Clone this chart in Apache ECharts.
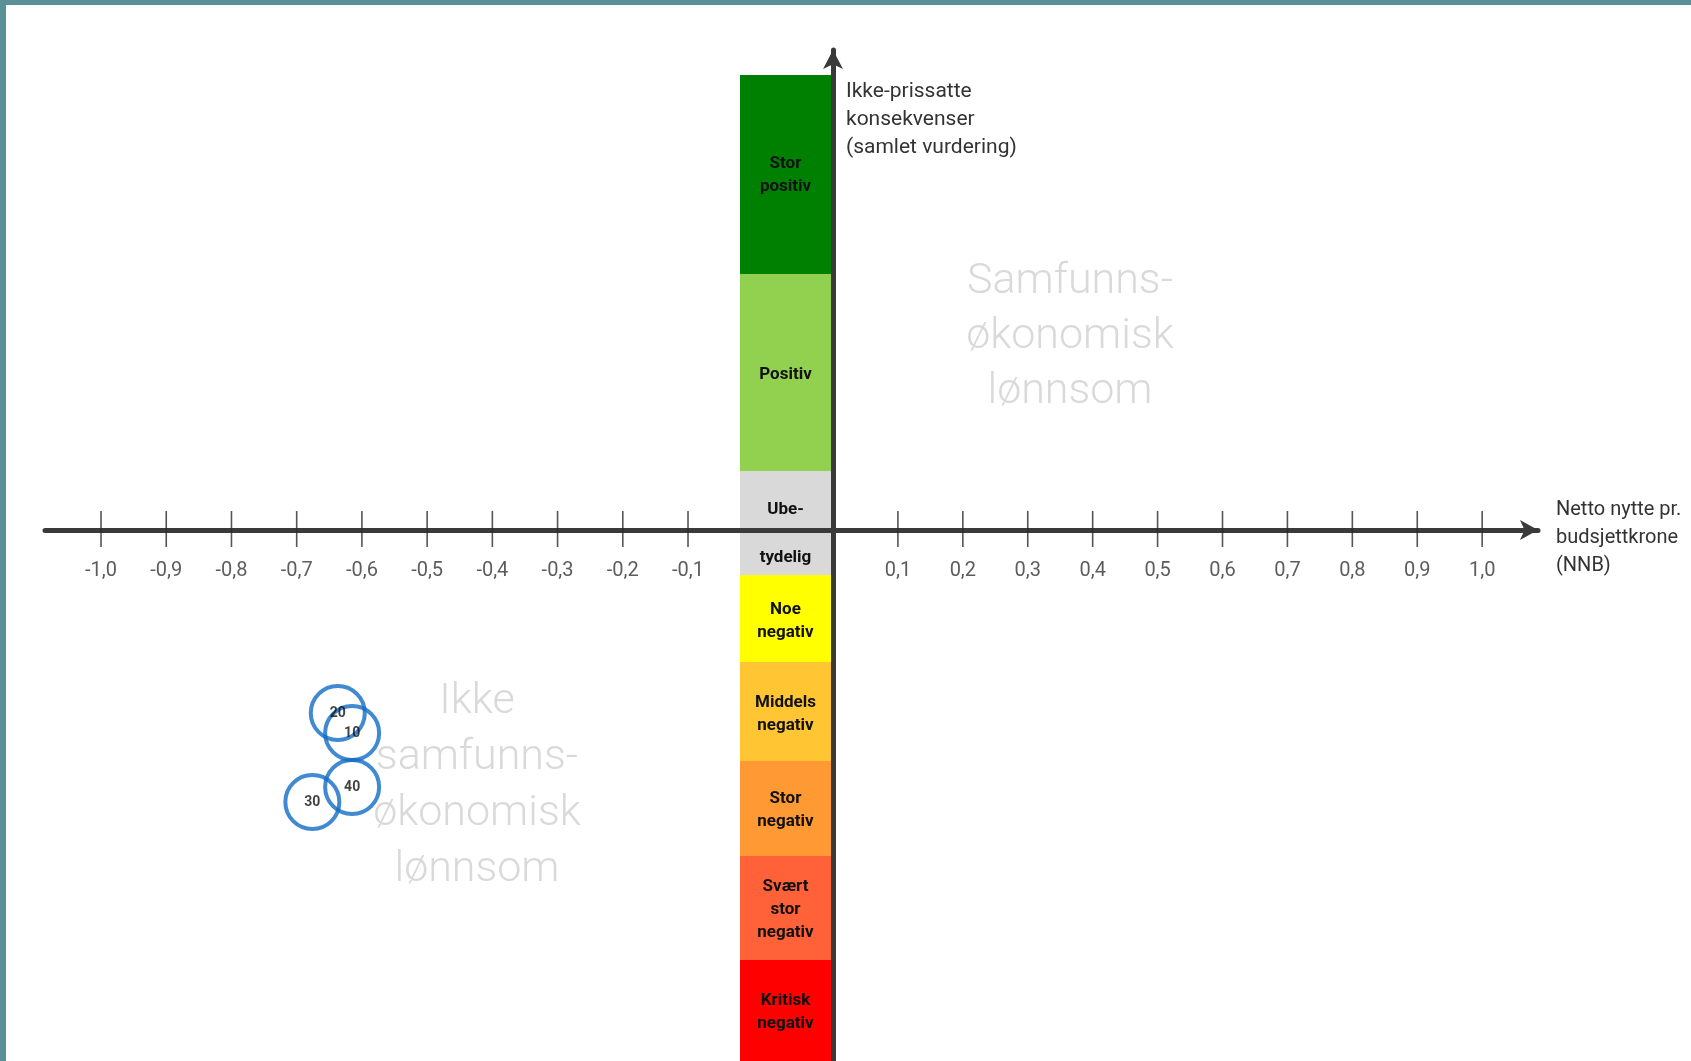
<!DOCTYPE html>
<html>
<head>
<meta charset="utf-8">
<script src="https://cdn.jsdelivr.net/npm/echarts@6.0.0/dist/echarts.min.js"></script>
<style>
html,body{margin:0;padding:0;background:#ffffff;overflow:hidden}
#chart{width:1691px;height:1061px}
</style>
</head>
<body>
<div id="chart"></div>
<script>
// ---- data ----
const tickValuesNeg = [-1.0, -0.9, -0.8, -0.7, -0.6, -0.5, -0.4, -0.3, -0.2, -0.1];
const tickValuesPos = [0.1, 0.2, 0.3, 0.4, 0.5, 0.6, 0.7, 0.8, 0.9, 1.0];
// rating bands, in stacking order (positive stack upward, negative stack downward)
const bandNames = ['Ube-', 'Positiv', 'Stor\npositiv', 'tydelig', 'Noe\nnegativ', 'Middels\nnegativ', 'Stor\nnegativ', 'Svært\nstor\nnegativ', 'Kritisk\nnegativ'];
const bandValues = [0.59, 1.97, 1.99, -0.45, -0.87, -0.99, -0.95, -1.04, -1.10];
// plotted alternatives
const pointNames = ['10', '20', '30', '40'];
const pointX = [-0.615, -0.637, -0.676, -0.615];
const pointY = [-2.03, -1.83, -2.72, -2.57];

// ---- styles ----
const bandColors = ['#d9d9d9', '#92d050', '#008000', '#d9d9d9', '#ffff00', '#ffc533', '#ff9933', '#ff6138', '#ff0000'];
const bandLabelDy = [9, 2, 1, 5, 3, 3, 2, 2, 2];
const FONT = 'Roboto, "Liberation Sans", sans-serif';
const AX = '#3a3a3a';

const fmt = v => (Math.round(v * 10) / 10).toFixed(1).replace('.', ',');

const chart = echarts.init(document.getElementById('chart'));

const bandSeries = bandNames.map((n, i) => ({
  type: 'bar',
  xAxisIndex: 1, yAxisIndex: 1,
  stack: 'npk',
  barWidth: '100%',
  data: [bandValues[i]],
  itemStyle: { color: bandColors[i] },
  label: {
    show: true, position: 'inside', formatter: n,
    color: '#111111', fontFamily: FONT, fontWeight: 'bold', fontSize: 17, lineHeight: 23,
    offset: [0, bandLabelDy[i]]
  },
  silent: true, z: 2
}));

const tickSeries = (vals, xi) => ({
  type: 'scatter', xAxisIndex: xi, yAxisIndex: xi, z: 11,
  symbol: 'rect', symbolSize: [1.6, 36], symbolOffset: [0, -1],
  itemStyle: { color: '#2a2a2a' }, silent: true,
  label: {
    show: true, position: 'bottom', distance: 14,
    formatter: p => fmt(p.value[0]),
    fontSize: 20, color: '#333333', fontFamily: FONT
  },
  data: vals.map(v => [v, 0])
});

const option = {
  animation: false,
  backgroundColor: '#ffffff',
  grid: [
    { left: 45, top: 0, width: 788, height: 1061, outerBoundsMode: 'none' },
    { left: 740, top: 0, width: 91, height: 1061, outerBoundsMode: 'none' },
    { left: 833, top: 50, width: 705, height: 1011, outerBoundsMode: 'none' }
  ],
  xAxis: [
    {
      gridIndex: 0, type: 'value', min: -1.0859, max: 0.1223, z: 10,
      axisLine: { show: true, onZero: true, lineStyle: { color: AX, width: 5 } },
      axisTick: { show: false }, splitLine: { show: false }, axisLabel: { show: false }
    },
    { gridIndex: 1, type: 'category', data: ['NPK'], show: false },
    {
      gridIndex: 2, type: 'value', min: 0, max: 1.086, z: 10,
      axisLine: { show: true, onZero: true, symbol: ['none', 'arrow'], symbolSize: [15, 18], lineStyle: { color: AX, width: 5 } },
      axisTick: { show: false }, splitLine: { show: false }, axisLabel: { show: false }
    }
  ],
  yAxis: [
    { gridIndex: 0, type: 'value', min: -5.31, max: 5.30, show: false },
    { gridIndex: 1, type: 'value', min: -5.31, max: 5.30, show: false },
    {
      gridIndex: 2, type: 'value', min: -5.31, max: 4.80, z: 10,
      axisLine: { show: true, onZero: true, symbol: ['none', 'arrow'], symbolSize: [15, 19], lineStyle: { color: AX, width: 5 } },
      axisTick: { show: false }, axisLabel: { show: false }, splitLine: { show: false }
    }
  ],
  series: [
    ...bandSeries,
    tickSeries(tickValuesNeg, 0),
    tickSeries(tickValuesPos, 2),
    {
      type: 'scatter', xAxisIndex: 0, yAxisIndex: 0, z: 12,
      symbol: 'circle', symbolSize: 54,
      itemStyle: { color: 'rgba(0,0,0,0)', borderColor: '#126cc4', borderWidth: 4 },
      label: { show: true, position: 'inside', formatter: p => p.name, color: '#111111', fontSize: 14, fontWeight: 'bold', fontFamily: FONT },
      data: pointNames.map((n, i) => ({ name: n, value: [pointX[i], pointY[i]] }))
    }
  ],
  graphic: [
    { type: 'rect', z: 100, shape: { x: 0, y: 0, width: 1691, height: 5 }, style: { fill: '#5a9199' } },
    { type: 'rect', z: 100, shape: { x: 0, y: 0, width: 6, height: 1061 }, style: { fill: '#5a9199' } },
    {
      type: 'text', z: 1, style: {
        text: 'Samfunns-\nøkonomisk\nlønnsom', x: 1070, y: 337, textAlign: 'center', textVerticalAlign: 'middle',
        fontSize: 43, fontWeight: 300, lineHeight: 55, fontFamily: FONT, fill: '#d9d9d9'
      }
    },
    {
      type: 'text', z: 1, style: {
        text: 'Ikke\nsamfunns-\nøkonomisk\nlønnsom', x: 477, y: 786, textAlign: 'center', textVerticalAlign: 'middle',
        fontSize: 43, fontWeight: 300, lineHeight: 56, fontFamily: FONT, fill: '#d9d9d9'
      }
    },
    {
      type: 'text', z: 50, style: {
        text: 'Ikke-prissatte\nkonsekvenser\n(samlet vurdering)', x: 846, y: 78, textAlign: 'left', textVerticalAlign: 'top',
        fontSize: 21, lineHeight: 28, fontFamily: FONT, fill: '#333333'
      }
    },
    {
      type: 'text', z: 50, style: {
        text: 'Netto nytte pr.\nbudsjettkrone\n(NNB)', x: 1556, y: 496, textAlign: 'left', textVerticalAlign: 'top',
        fontSize: 20, lineHeight: 28, fontFamily: FONT, fill: '#333333'
      }
    }
  ]
};
chart.setOption(option);
</script>
</body>
</html>
